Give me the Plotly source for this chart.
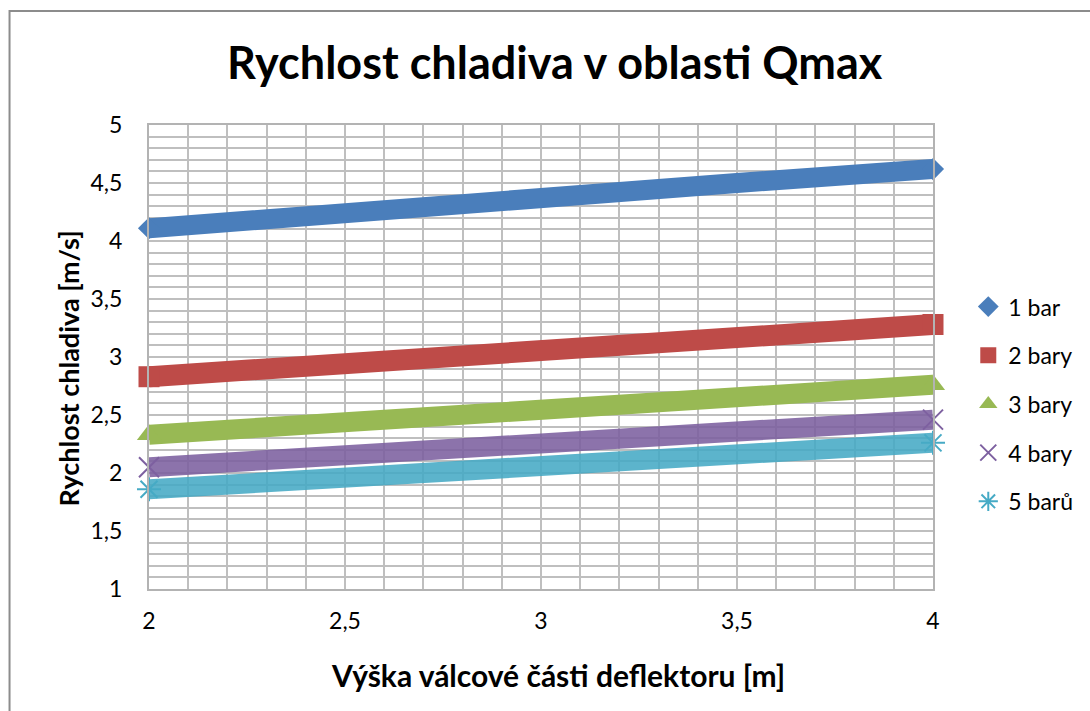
import plotly.graph_objects as go

# Height of the cylindrical deflector part [m]
x_vals = [2.0, 2.5, 3.0, 3.5, 4.0]

# Coolant velocity [m/s] for each pressure
v_1bar = [4.11, 4.25, 4.38, 4.50, 4.62]
v_2bar = [2.83, 2.95, 3.06, 3.17, 3.28]
v_3bar = [2.33, 2.44, 2.55, 2.66, 2.76]
v_4bar = [2.05, 2.15, 2.25, 2.36, 2.46]
v_5bar = [1.86, 1.96, 2.06, 2.16, 2.26]

series_names = ["1 bar", "2 bary", "3 bary", "4 bary", "5 barů"]
series_values = [v_1bar, v_2bar, v_3bar, v_4bar, v_5bar]

x_ticks = [2, 2.5, 3, 3.5, 4]
y_ticks = [1, 1.5, 2, 2.5, 3, 3.5, 4, 4.5, 5]

colors = ["#4a7ebb", "#be4b48", "#98b954", "#7d60a0", "#46aac5"]
band_opacity = [1.0, 1.0, 1.0, 0.88, 0.88]
symbols = ["diamond", "square", "triangle-up", "x-thin-open", "asterisk-open"]
marker_sizes = [17, 21, 21, 20, 20]
band_widths = [20, 21, 20, 20, 20]

FONT = "Lato"
GRID = "#bfbfbf"

fig = go.Figure()

for i, (name, vals) in enumerate(zip(series_names, series_values)):
    # dense marker band
    fig.add_trace(go.Scatter(
        x=x_vals, y=vals, mode="lines",
        line=dict(color=colors[i], width=band_widths[i]),
        opacity=band_opacity[i],
        showlegend=False, hoverinfo="skip", legendgroup=name,
    ))
    # end markers of the band (also used for the legend entry)
    if symbols[i].endswith("open"):
        mk = dict(symbol=symbols[i], size=marker_sizes[i], color=colors[i],
                  line=dict(color=colors[i], width=2))
    else:
        mk = dict(symbol=symbols[i], size=marker_sizes[i], color=colors[i],
                  line=dict(width=0))
    fig.add_trace(go.Scatter(
        x=[x_vals[0], x_vals[-1]], y=[vals[0], vals[-1]], mode="markers", name=name,
        marker=mk, cliponaxis=False, legendgroup=name,
    ))

axis_common = dict(
    showgrid=True, gridcolor=GRID, gridwidth=2,
    minor=dict(dtick=0.1, showgrid=True, gridcolor=GRID, gridwidth=2),
    showline=True, linecolor="#b3b3b3", linewidth=2, mirror=True,
    ticks="", zeroline=False,
    tickfont=dict(family=FONT, size=23, color="#000000"),
)

fig.update_xaxes(range=[2, 4], tickvals=x_ticks, ticklabelstandoff=10, **axis_common)
fig.update_yaxes(range=[1, 5], tickvals=y_ticks, ticklabelstandoff=20, **axis_common)

fig.update_layout(
    width=1090, height=711,
    margin=dict(l=149, r=154, t=125, b=122),
    paper_bgcolor="white", plot_bgcolor="white",
    separators=",.",
    font=dict(family=FONT, color="#000000"),
    showlegend=True,
    legend=dict(
        x=1.045, y=0.655, xanchor="left", yanchor="top",
        font=dict(family=FONT, size=23, color="#000000"),
        traceorder="grouped", tracegroupgap=15.8,
        bgcolor="rgba(0,0,0,0)",
    ),
    annotations=[
        dict(text="<b>Rychlost chladiva v oblasti Qmax</b>", xref="paper", yref="paper",
             x=0.518, y=1.136, xanchor="center", yanchor="middle", showarrow=False,
             font=dict(family=FONT, size=45, color="#000000")),
        dict(text="<b>Výška válcové části deflektoru [m]</b>", xref="paper", yref="paper",
             x=0.522, y=-0.185, xanchor="center", yanchor="middle", showarrow=False,
             font=dict(family=FONT, size=30, color="#000000")),
        dict(text="<b>Rychlost chladiva [m/s]</b>", xref="paper", yref="paper",
             x=-0.103, y=0.476, xanchor="center", yanchor="middle", showarrow=False,
             textangle=-90, font=dict(family=FONT, size=27, color="#000000")),
    ],
    shapes=[
        dict(type="rect", xref="paper", yref="paper",
             x0=(9 - 149) / 787, x1=(1100 - 149) / 787,
             y0=(589 - 720) / 464, y1=(589 - 11) / 464,
             line=dict(color="#8c8c8c", width=2), fillcolor="rgba(0,0,0,0)",
             layer="below"),
    ],
)

fig.write_html("out.html")
